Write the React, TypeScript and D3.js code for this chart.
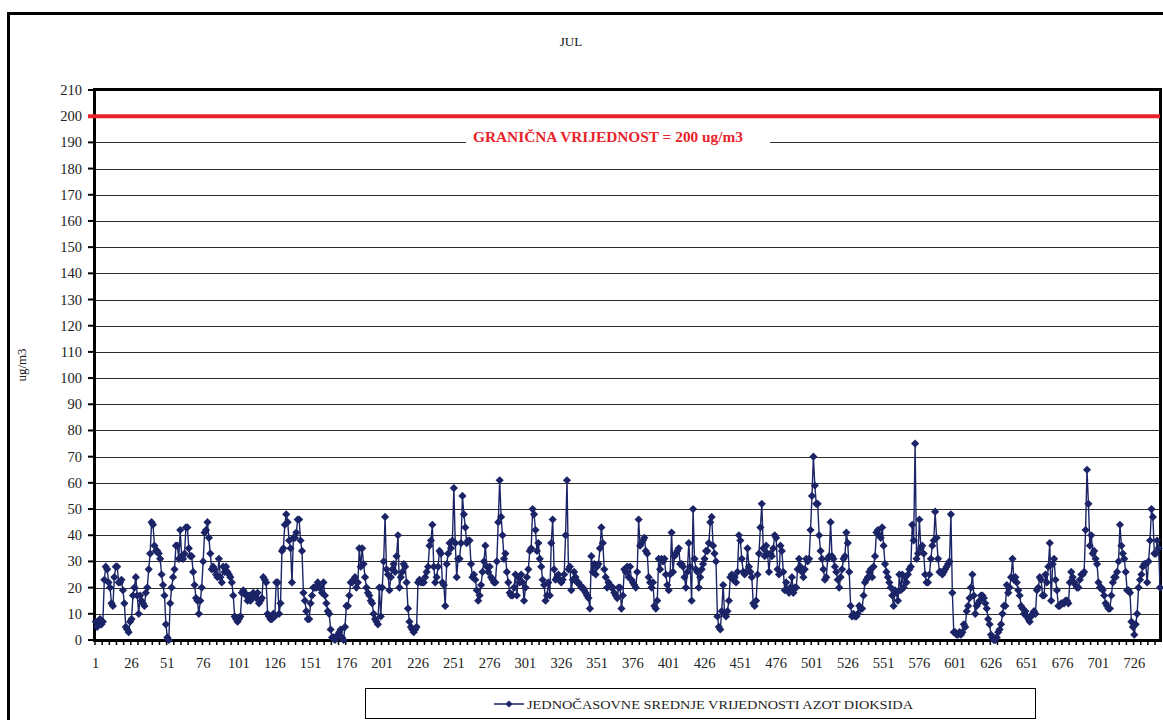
import React from "react";
import * as d3 from "d3";

// hourly NO2, July (24 h x 31 days)
const weekOne = [
  7, 5, 6, 8, 6, 7, 23, 28, 27, 22, 20, 14, 13, 24, 28, 28, 22, 22, 23, 19, 14, 5, 4, 3,
  7, 8, 17, 20, 24, 17, 10, 17, 15, 14, 13, 18, 20, 27, 33, 45, 44, 36, 34, 34, 33, 31, 25, 21,
  17, 6, 1, 0, 14, 20, 24, 27, 36, 36, 31, 42, 32, 31, 33, 43, 43, 35, 32, 32, 26, 21, 16, 15,
  10, 15, 20, 30, 41, 42, 45, 39, 33, 27, 28, 27, 25, 24, 31, 24, 22, 28, 26, 28, 26, 25, 24, 22,
  17, 9, 8, 7, 8, 9, 18, 19, 18, 17, 15, 17, 15, 16, 18, 17, 16, 18, 14, 15, 16, 24, 23, 22,
  10, 9, 8, 8, 10, 9, 22, 22, 10, 14, 34, 35, 44, 48, 45, 38, 35, 22, 39, 39, 41, 46, 46, 38,
  34, 18, 15, 11, 8, 8, 14, 17, 20, 20, 20, 22, 20, 20, 18, 22, 17, 14, 11, 10, 4, 1, 1, 0,
];
const weekTwo = [
  1, 2, 3, 4, 1, 0, 5, 13, 13, 17, 22, 22, 23, 24, 20, 22, 35, 28, 35, 29, 24, 20, 18, 17,
  15, 14, 10, 8, 7, 6, 20, 9, 20, 30, 47, 27, 25, 19, 24, 27, 29, 26, 32, 40, 20, 24, 26, 29,
  28, 22, 12, 7, 5, 4, 3, 4, 5, 22, 23, 22, 22, 22, 24, 26, 28, 36, 38, 44, 28, 22, 24, 28,
  34, 33, 22, 21, 13, 29, 33, 37, 35, 38, 58, 37, 24, 31, 31, 37, 55, 48, 43, 37, 38, 38, 29, 24,
  25, 23, 19, 15, 17, 21, 26, 30, 36, 28, 26, 28, 24, 23, 22, 22, 30, 45, 61, 47, 40, 31, 33, 26,
  22, 18, 17, 17, 20, 25, 17, 24, 22, 25, 22, 15, 20, 24, 27, 34, 35, 50, 48, 42, 34, 37, 31, 28,
  23, 21, 15, 17, 22, 17, 37, 46, 27, 23, 24, 25, 23, 22, 23, 25, 40, 61, 27, 28, 19, 23, 26, 24,
];
const weekThree = [
  22, 22, 21, 20, 20, 19, 18, 17, 16, 12, 32, 26, 29, 25, 28, 29, 35, 43, 37, 27, 24, 20, 22, 21,
  20, 20, 18, 17, 16, 20, 20, 12, 17, 27, 26, 28, 24, 28, 23, 22, 21, 20, 26, 46, 36, 37, 38, 39,
  34, 33, 24, 22, 20, 22, 13, 12, 15, 31, 27, 31, 30, 31, 25, 21, 19, 25, 41, 26, 32, 33, 34, 35,
  29, 29, 28, 24, 20, 26, 37, 28, 15, 50, 31, 27, 26, 20, 24, 27, 29, 31, 34, 34, 37, 45, 47, 36,
  33, 30, 9, 5, 4, 11, 21, 10, 9, 11, 15, 24, 25, 23, 24, 22, 26, 40, 38, 31, 26, 25, 26, 35,
  28, 26, 24, 14, 13, 15, 25, 33, 43, 52, 35, 32, 36, 33, 26, 33, 32, 35, 40, 39, 27, 25, 36, 34,
  26, 19, 22, 19, 18, 20, 24, 18, 20, 20, 27, 31, 28, 26, 24, 27, 31, 30, 31, 42, 55, 70, 59, 52,
];
const weekFour = [
  52, 40, 34, 31, 27, 23, 24, 31, 32, 45, 32, 31, 28, 26, 23, 20, 24, 27, 31, 32, 41, 37, 26, 13,
  9, 10, 9, 9, 10, 13, 12, 12, 17, 22, 23, 24, 26, 27, 24, 28, 32, 41, 42, 40, 39, 43, 36, 29,
  26, 24, 22, 20, 17, 13, 19, 18, 15, 25, 19, 25, 20, 24, 22, 25, 27, 28, 44, 38, 75, 31, 33, 46,
  35, 36, 33, 25, 22, 22, 25, 31, 36, 38, 49, 39, 31, 26, 26, 25, 26, 27, 28, 29, 30, 48, 18, 3,
  3, 2, 2, 3, 2, 3, 6, 5, 11, 13, 16, 20, 25, 17, 10, 13, 14, 15, 17, 17, 16, 14, 12, 8,
  6, 2, 1, 0, 0, 1, 3, 4, 6, 10, 13, 13, 21, 18, 20, 24, 31, 23, 24, 22, 19, 17, 13, 12,
  10, 11, 9, 8, 7, 9, 10, 11, 10, 19, 20, 24, 23, 17, 17, 25, 22, 28, 37, 15, 29, 31, 23, 19,
];
const lastDays = [
  13, 13, 14, 14, 14, 15, 15, 14, 22, 26, 24, 22, 21, 20, 20, 23, 25, 25, 26, 42, 65, 52, 36, 40,
  33, 34, 31, 29, 22, 20, 20, 19, 17, 14, 13, 12, 12, 17, 22, 24, 24, 26, 30, 44, 36, 33, 31, 26,
  19, 19, 18, 7, 5, 2, 6, 10, 20, 23, 25, 28, 29, 29, 22, 30, 38, 50, 47, 33, 33, 38, 35, 20,
];

const hourlyNO2 = [...weekOne, ...weekTwo, ...weekThree, ...weekFour, ...lastDays];
const hours = hourlyNO2.map((_, i) => i + 1);
const yTicks = d3.range(0, 211, 10);
const xLabels = d3.range(1, hours.length + 1, 25);
const limitValue = 200;

const title = "JUL";
const yTitle = "ug/m3";
const limitLabel = "GRANIČNA VRIJEDNOST = 200 ug/m3";
const seriesName = "JEDNOČASOVNE SREDNJE VRIJEDNOSTI AZOT DIOKSIDA";

const navy = "#1b2466";
const red = "#e8232b";
const font = "'Liberation Serif', 'Times New Roman', serif";

const diamond = (r: number) => `M0,${-r}L${r},0L0,${r}L${-r},0Z`;

export default function App() {
  const left = 95;
  const right = 1160;
  const top = 90;
  const bottom = 640;

  const x = d3
    .scaleBand<number>()
    .domain(hours)
    .range([left, left + hours.length * 1.4325]);
  const cx = (h: number) => (x(h) ?? 0) + x.bandwidth() / 2;
  const y = d3.scaleLinear().domain([0, 210]).range([bottom, top]);

  const line = d3
    .line<number>()
    .x((_, i) => cx(hours[i]))
    .y((d) => y(d));

  const minorTicks = d3.range(0, hours.length + 1, 5);

  return (
    <svg
      width={1163}
      height={720}
      style={{ position: "absolute", left: 0, top: 0, fontFamily: font }}
    >
      <rect width={1163} height={720} fill="white" />
      {/* outer chart frame */}
      <path d="M8.5,720V13.5H1163" fill="none" stroke="black" strokeWidth={3} />

      <text x={571} y={46} textAnchor="middle" fontSize={13} fill="#111">
        {title}
      </text>

      {/* gridlines */}
      {yTicks
        .filter((t) => t > 0 && t < 210)
        .map((t) => (
          <line
            key={t}
            x1={left}
            x2={right}
            y1={Math.round(y(t)) + 0.5}
            y2={Math.round(y(t)) + 0.5}
            stroke="#2e2e2e"
            strokeWidth={1.2}
          />
        ))}

      {/* plot border */}
      <rect
        x={left - 0.5}
        y={top - 0.5}
        width={right - left + 1}
        height={bottom - top + 1}
        fill="none"
        stroke="black"
        strokeWidth={3}
      />

      {/* y axis */}
      {yTicks.map((t) => (
        <g key={t}>
          <line x1={88} x2={94} y1={y(t)} y2={y(t)} stroke="black" strokeWidth={2} />
          <text x={82} y={y(t) + 5} textAnchor="end" fontSize={14.5} fill="#222">
            {t}
          </text>
        </g>
      ))}

      {/* x axis */}
      {minorTicks.map((k) => (
        <line
          key={k}
          x1={left + k * x.step()}
          x2={left + k * x.step()}
          y1={bottom}
          y2={bottom + 5}
          stroke="black"
          strokeWidth={1.5}
        />
      ))}
      {xLabels.map((h) => (
        <text key={h} x={cx(h)} y={668} textAnchor="middle" fontSize={14.5} fill="#222">
          {h}
        </text>
      ))}

      <text
        transform={`translate(26,${(top + bottom) / 2}) rotate(-90)`}
        textAnchor="middle"
        fontSize={13}
        fill="#222"
      >
        {yTitle}
      </text>

      {/* series */}
      <path d={line(hourlyNO2) ?? ""} fill="none" stroke={navy} strokeWidth={1.4} />
      {hourlyNO2.map((v, i) => (
        <path
          key={i}
          d={diamond(4.1)}
          transform={`translate(${cx(hours[i])},${y(v)})`}
          fill={navy}
        />
      ))}

      {/* limit line */}
      <line
        x1={88}
        x2={right}
        y1={y(limitValue)}
        y2={y(limitValue)}
        stroke={red}
        strokeWidth={4}
      />
      <rect x={466} y={127} width={304} height={20} fill="white" />
      <text
        x={608}
        y={142}
        textAnchor="middle"
        fontSize={14}
        fontWeight="bold"
        fill={red}
        textLength={270}
        lengthAdjust="spacingAndGlyphs"
      >
        {limitLabel}
      </text>

      {/* legend */}
      <rect x={365.5} y={688.5} width={670} height={30} fill="white" stroke="black" strokeWidth={1} />
      <line x1={494} x2={524} y1={704} y2={704} stroke={navy} strokeWidth={1.5} />
      <path d={diamond(3.6)} transform="translate(509,704)" fill={navy} />
      <text
        x={527}
        y={708.5}
        fontSize={13}
        fill="#222"
        textLength={386}
        lengthAdjust="spacingAndGlyphs"
      >
        {seriesName}
      </text>
    </svg>
  );
}
